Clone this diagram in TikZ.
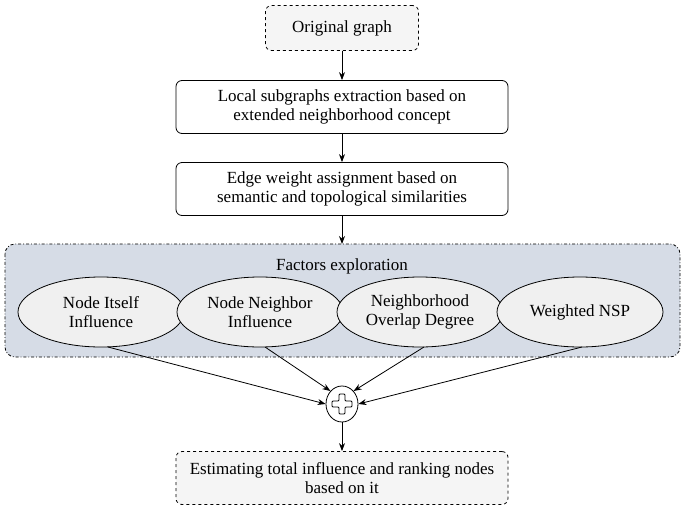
\documentclass[tikz,border=0pt]{standalone}
\usepackage{fontspec}
\setmainfont{Liberation Serif}
\usetikzlibrary{shapes.geometric,arrows.meta}
\begin{document}
\begin{tikzpicture}[x=1pt,y=-1pt,
  box/.style={draw,thick,rounded corners=6pt,fill=white,minimum width=332pt,minimum height=53pt,align=center,font=\fontsize{17}{19}\selectfont},
  dbox/.style={box,dashed,fill=black!4},
  ell/.style={ellipse,draw,thick,fill=black!6,minimum width=166pt,minimum height=70pt,inner sep=0pt,align=center,font=\fontsize{17}{19}\selectfont},
  arr/.style={-{Stealth[length=8pt,width=6pt]},thick}]
\useasboundingbox (0,0) rectangle (685,509);
\draw[thick,dash dot,rounded corners=10pt,fill={rgb,255:red,214;green,220;blue,230}] (5,244) rectangle (680,357);
\node[font=\fontsize{17}{19}\selectfont] (title) at (342,266) {Factors exploration};
\node[dbox,minimum width=153pt,minimum height=45pt] (a) at (342,28) {Original graph};
\node[box] (b) at (342,107) {Local subgraphs extraction based on\\extended neighborhood concept};
\node[box] (c) at (342,189) {Edge weight assignment based on\\semantic and topological similarities};
\node[ell] (e1) at (101,312) {Node Itself\\Influence};
\node[ell] (e2) at (260,312) {Node Neighbor\\Influence};
\node[ell] (e3) at (420,312) {Neighborhood\\Overlap Degree};
\node[ell] (e4) at (580,312) {Weighted NSP};
\node[ellipse,draw,thick,fill=white,minimum width=32pt,minimum height=36pt,inner sep=0pt] (p) at (342,404) {};
\draw[thick,rounded corners=1pt] (339,394)--(345,394)--(345,401)--(352,401)--(352,407)--(345,407)--(345,414)--(339,414)--(339,407)--(332,407)--(332,401)--(339,401)--cycle;
\node[dbox] (f) at (342,478) {Estimating total influence and ranking nodes\\based on it};
\draw[arr] (a) -- (b);
\draw[arr] (b) -- (c);
\draw[arr] (c) -- (342,244);
\draw[arr] (108,347) -- (p.west);
\draw[arr] (265,347) -- (p.north west);
\draw[arr] (424,347) -- (p.north east);
\draw[arr] (582,347) -- (p.east);
\draw[arr] (p) -- (f);
\end{tikzpicture}
\end{document}
